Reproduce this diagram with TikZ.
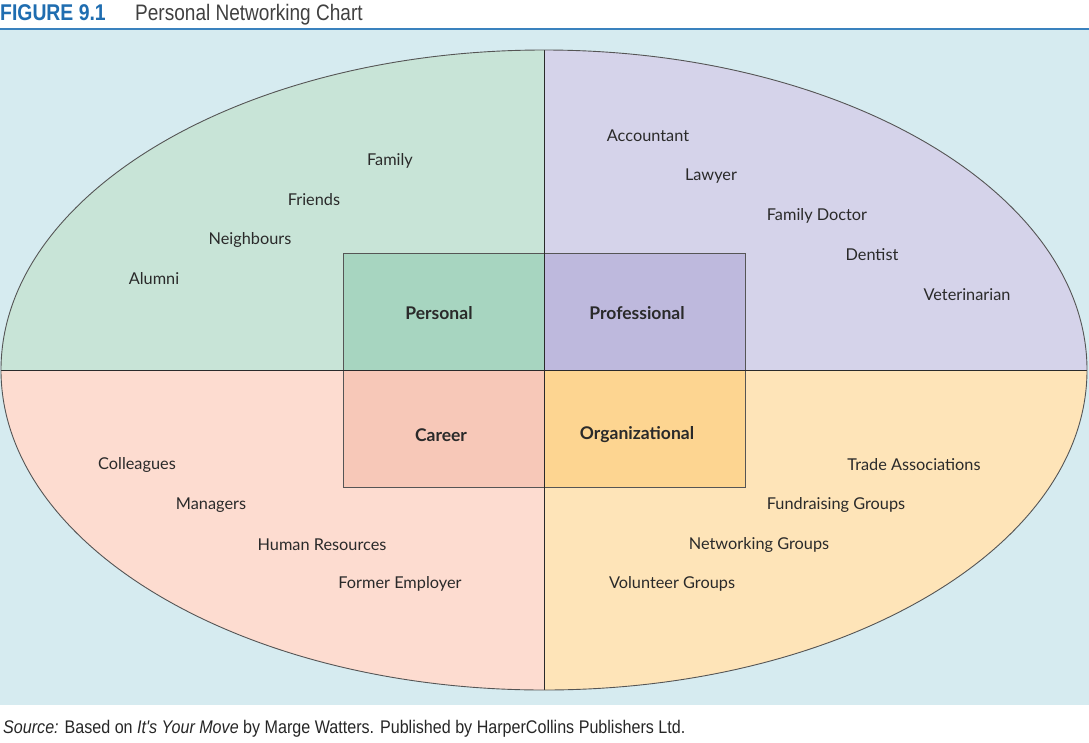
\documentclass[tikz,border=0pt]{standalone}
\usepackage{fontspec}
\setmainfont{Lato}
\newfontfamily\condfont[FakeStretch=0.85]{Liberation Sans}
\newfontfamily\capfont[FakeStretch=0.88]{Liberation Sans}
\definecolor{bgblue}{HTML}{D6EBF0}
\definecolor{titleblue}{HTML}{1F6DB0}
\definecolor{lineblue}{HTML}{3A82BE}
\definecolor{qgreen}{HTML}{C8E4D7}
\definecolor{bgreen}{HTML}{A7D5C0}
\definecolor{qpurple}{HTML}{D5D3EA}
\definecolor{bpurple}{HTML}{BEB9DD}
\definecolor{qpink}{HTML}{FDDCD0}
\definecolor{bpink}{HTML}{F7C8B8}
\definecolor{qorange}{HTML}{FEE4B8}
\definecolor{borange}{HTML}{FDD591}
\definecolor{txt}{HTML}{2A2A2A}
\tikzset{
  lbl/.style={font=\fontsize{16.3}{18}\selectfont, text=txt, inner sep=0pt},
  box/.style={draw=txt!80, line width=0.9pt, minimum width=201pt, minimum height=117pt, inner sep=0pt},
  boxlbl/.style={font=\fontsize{17.5}{19}\selectfont\bfseries, text=txt, inner sep=0pt},
  divider/.style={draw=txt, line width=0.9pt}
}
\begin{document}
\begin{tikzpicture}[x=1pt,y=-1pt]
\useasboundingbox (0,0) rectangle (1089,742);
% background
\fill[bgblue] (0,30) rectangle (1089,705);
\draw[lineblue, line width=1.5pt] (0,29) -- (1089,29);
% title
\node[anchor=base west, inner sep=0pt, font=\condfont\bfseries\fontsize{22.8}{24}\selectfont, text=titleblue] (fig) at (0,20) {FIGURE 9.1};
\node[anchor=base west, inner sep=0pt, font=\condfont\fontsize{22.4}{24}\selectfont, text=black!75] (ttl) at (135,20) {Personal Networking Chart};
% quadrants
\begin{scope}
\clip (544,370) ellipse [x radius=543pt, y radius=320pt];
\fill[qgreen] (0,40) rectangle (544,370);
\fill[qpurple] (544,40) rectangle (1089,370);
\fill[qpink] (0,370) rectangle (544,700);
\fill[qorange] (544,370) rectangle (1089,700);
\end{scope}
% central boxes
\node[box, fill=bgreen] (personal) at (443.5,312) {};
\node[box, fill=bpurple] (professional) at (644.5,312) {};
\node[box, fill=bpink] (career) at (443.5,429) {};
\node[box, fill=borange] (organizational) at (644.5,429) {};
\node[boxlbl] (personaltxt) at (439,313) {Personal};
\node[boxlbl] (professionaltxt) at (637,313) {Professional};
\node[boxlbl] (careertxt) at (441,435) {Career};
\node[boxlbl] (organizationaltxt) at (637,435) {Organizational};
% dividers and outline
\coordinate (top) at (544,50);
\coordinate (bot) at (544,690);
\coordinate (lft) at (1,370);
\coordinate (rgt) at (1087,370);
\draw[divider] (top) -- (bot);
\draw[divider] (lft) -- (rgt);
\draw[txt!80, line width=0.9pt] (544,370) ellipse [x radius=543pt, y radius=320pt];
% labels
\node[lbl] (family) at (390,161) {Family};
\node[lbl] (friends) at (314,200) {Friends};
\node[lbl] (neighbours) at (250,240) {Neighbours};
\node[lbl] (alumni) at (154,279) {Alumni};
\node[lbl] (accountant) at (648,136) {Accountant};
\node[lbl] (lawyer) at (711,176) {Lawyer};
\node[lbl] (doctor) at (817,216) {Family Doctor};
\node[lbl] (dentist) at (872,255) {Dentist};
\node[lbl] (vet) at (967,295) {Veterinarian};
\node[lbl] (colleagues) at (137,465) {Colleagues};
\node[lbl] (managers) at (211,505) {Managers};
\node[lbl] (hr) at (322,545) {Human Resources};
\node[lbl] (former) at (400,584) {Former Employer};
\node[lbl] (trade) at (914,465) {Trade Associations};
\node[lbl] (fund) at (836,505) {Fundraising Groups};
\node[lbl] (netw) at (759,545) {Networking Groups};
\node[lbl] (vol) at (672,584) {Volunteer Groups};
% caption
\node[anchor=base west, inner sep=0pt, font=\capfont\fontsize{18.3}{20}\selectfont, text=black!85] (src) at (3,733) {\textit{Source:} Based on \textit{It's Your Move} by Marge Watters. Published by HarperCollins Publishers Ltd.};
\end{tikzpicture}
\end{document}
